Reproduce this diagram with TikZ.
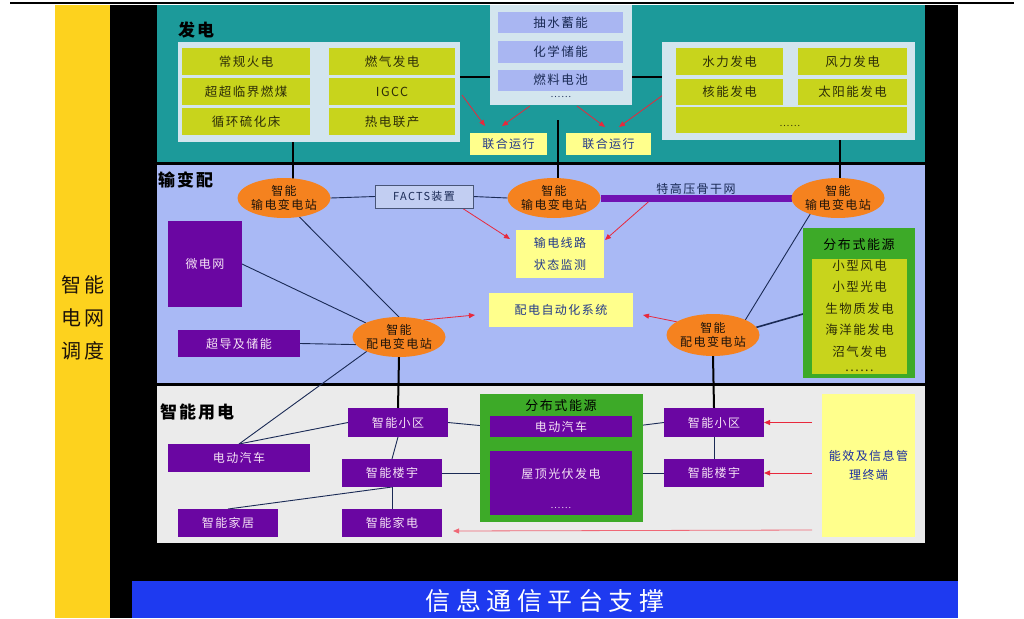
\documentclass[tikz,border=0pt]{standalone}
\usepackage{fontspec}
\setmainfont{Noto Sans CJK SC}[LetterSpace=12]
\newfontfamily\xwide{Noto Sans CJK SC}[LetterSpace=22]
\usetikzlibrary{shapes.geometric,arrows.meta,calc}
\newcommand\fz[2]{\fontsize{#1pt}{#2pt}\selectfont}
\definecolor{teal1}{HTML}{1C9A9A}
\definecolor{peri}{HTML}{A9B9F5}
\definecolor{lgray}{HTML}{EBEBEB}
\definecolor{sideyellow}{HTML}{FDD21E}
\definecolor{bluebottom}{HTML}{1E3AF0}
\definecolor{orng}{HTML}{F5821F}
\definecolor{purp}{HTML}{6A06A2}
\definecolor{ygreen}{HTML}{C8D41C}
\definecolor{contb}{HTML}{D3E5EE}
\definecolor{lav}{HTML}{A9B6F2}
\definecolor{lyel}{HTML}{FFFF8C}
\definecolor{grn}{HTML}{3DAA28}
\definecolor{navy}{HTML}{1A2A55}
\definecolor{redl}{HTML}{E8283C}
\definecolor{ytext}{HTML}{22388A}
\definecolor{thickp}{HTML}{7012B2}
\definecolor{factsf}{HTML}{C2CEF2}
\definecolor{celltext}{HTML}{2E2E08}
\definecolor{ptext}{HTML}{F6E4F6}
\pgfdeclarelayer{back}\pgfdeclarelayer{mid}\pgfsetlayers{back,mid,main}
\begin{document}
\begin{tikzpicture}[x=1pt,y=-1pt,
  every node/.style={inner sep=0pt, outer sep=0pt},
  bw/.style={minimum width=#1pt}, bh/.style={minimum height=#1pt},
  cell/.style={rectangle, fill=ygreen, text=celltext, font=\fz{12.5}{15}},
  lavcell/.style={rectangle, fill=lav, text=navy, font=\fz{12.5}{15}},
  cont/.style={rectangle, fill=contb},
  ybox/.style={rectangle, fill=lyel, text=ytext, font=\fz{12}{22}, align=center},
  pbox/.style={rectangle, fill=purp, text=ptext, font=\fz{12}{15}},
  sub/.style={ellipse, fill=orng, text=black!85!brown, font=\fz{12}{14}, align=center, minimum width=92pt, minimum height=40pt},
  conn/.style={draw=navy, line width=0.9pt},
  trunk/.style={draw=black, line width=2pt},
  redarr/.style={draw=redl, line width=0.8pt, -{Triangle[length=6pt,width=5pt]}},
  ptitle/.style={font=\bfseries\fz{17}{20}, text=black, anchor=west}]
\useasboundingbox (0,0) rectangle (1024,618);
\begin{pgfonlayer}{back}
\fill[white] (0,0) rectangle (1024,618);
\draw[line width=2pt] (10,3) -- (1014,3);
\fill[fill=sideyellow] (55,5) rectangle (110,618);
\fill[black] (110,5) rectangle (958,618);
\fill[teal1] (157,5) rectangle (925,162);
\fill[peri] (157,165) rectangle (925,383);
\fill[lgray] (157,386) rectangle (925,543);
\fill[fill=bluebottom] (132,581) rectangle (958,618);
\end{pgfonlayer}

% side and bottom labels
\node[font=\fz{20}{33}, text=black!85!brown, align=center] (sched) at (83,318) {智能\\电网\\调度};
\node[font=\xwide\fz{25}{28}, text=white] (info) at (545,601) {信息通信平台支撑};

% ---------- generation ----------
\node[ptitle] (tgen) at (178,30) {发电};
\node[cont, bw=282, bh=100] (L) at (319,92) {};
\node[cell, bw=128, bh=27] (c11) at (246,61.5) {常规火电};
\node[cell, bw=128, bh=27] (c12) at (246,91.5) {超超临界燃煤};
\node[cell, bw=128, bh=27] (c13) at (246,121.5) {循环硫化床};
\node[cell, bw=126, bh=27] (c21) at (392,61.5) {燃气发电};
\node[cell, bw=126, bh=27] (c22) at (392,91.5) {IGCC};
\node[cell, bw=126, bh=27] (c23) at (392,121.5) {热电联产};

\node[cont, bw=142, bh=100] (S) at (561,55) {};
\node[lavcell, bw=125, bh=21] (s1) at (560.5,23) {抽水蓄能};
\node[lavcell, bw=125, bh=21] (s2) at (560.5,52) {化学储能};
\node[lavcell, bw=125, bh=21] (s3) at (560.5,80) {燃料电池};
\node[font=\fz{9}{10}, text=navy] (sdots) at (561,97) {......};

\node[ybox, bw=77, bh=22] (J1) at (508.5,144) {联合运行};
\node[ybox, bw=85, bh=22] (J2) at (608.5,144) {联合运行};
\coordinate (jv) at (558,120);

\node[cont, bw=253, bh=98] (R) at (788.5,91) {};
\node[cell, bw=107, bh=27] (r11) at (729.5,61.5) {水力发电};
\node[cell, bw=109, bh=27] (r12) at (852.5,61.5) {风力发电};
\node[cell, bw=107, bh=26] (r21) at (729.5,92) {核能发电};
\node[cell, bw=109, bh=26] (r22) at (852.5,92) {太阳能发电};
\node[cell, bw=231, bh=26] (r3) at (791.5,120) {};
\node[font=\fz{9}{10}, text=celltext] (rdots) at (790,126) {......};

% ---------- transmission ----------
\node[ptitle] (tmid) at (158,180) {输变配};
\node[sub] (E1) at (284,198) {智能\\输电变电站};
\node[rectangle, fill=factsf, draw=navy!80, line width=0.8pt, bw=98, bh=23, font=\fz{11}{13}, text=navy] (F) at (424,196.5) {FACTS装置};
\node[sub] (E2) at (554,198) {智能\\输电变电站};
\node[sub, minimum width=90pt] (E3) at (838,198) {智能\\输电变电站};
\node[ybox, bw=88, bh=48] (M) at (560,254) {输电线路\\状态监测};
\node[ybox, bw=144, bh=34] (D) at (561,310) {配电自动化系统};
\node[pbox, bw=74, bh=86] (W) at (205,264) {微电网};
\node[pbox, bw=122, bh=27] (C) at (239,343.5) {超导及储能};
\node[sub, minimum width=88pt] (E4) at (399,337) {智能\\配电变电站};
\node[sub, minimum width=88pt, minimum height=42pt] (E5) at (713,335) {智能\\配电变电站};
\node[rectangle, fill=grn, bw=112, bh=150] (G) at (859,303) {};
\node[font=\fz{13}{15}, text=black] (Gt) at (859,245) {分布式能源};
\node[rectangle, fill=ygreen, bw=95, bh=115, align=center, font=\fz{12.5}{21.5}, text=celltext] (G2) at (859.5,316) {小型风电\\小型光电\\生物质发电\\海洋能发电\\沼气发电\\[-6pt]......};

% ---------- consumption ----------
\node[ptitle] (tuse) at (160,412) {智能用电};
\node[pbox, bw=100, bh=29] (SQ1) at (398,422.5) {智能小区};
\node[pbox, bw=142, bh=28] (EV) at (239,458) {电动汽车};
\node[pbox, bw=100, bh=28] (LY1) at (392,473) {智能楼宇};
\node[pbox, bw=100, bh=28] (JJ) at (228,523) {智能家居};
\node[pbox, bw=100, bh=28] (JD) at (392,523) {智能家电};
\node[rectangle, fill=grn, bw=163, bh=128] (GG) at (561.5,458) {};
\node[font=\fz{13}{15}, text=black] (GGt) at (561,406) {分布式能源};
\node[pbox, bw=142, bh=21] (GE) at (561,426.5) {电动汽车};
\node[pbox, bw=142, bh=64] (GR) at (561,483) {};
\node[text=ptext, font=\fz{12}{14}] (GRt) at (561,474) {屋顶光伏发电};
\node[text=ptext, font=\fz{9}{10}] (GRd) at (561,508) {......};
\node[pbox, bw=100, bh=29] (SQ2) at (714,422.5) {智能小区};
\node[pbox, bw=100, bh=28] (LY2) at (714,473) {智能楼宇};
\node[rectangle, fill=lyel, bw=93, bh=143, align=center, text=ytext!80!blue, font=\fz{12}{19}] (NX) at (868.5,465.5) {能效及信息管\\理终端};

% ---------- connectors ----------
\begin{pgfonlayer}{mid}
\draw[trunk] ($(L.east)+(0,-15)$) -- ($(R.west)+(0,-14)$);
\draw[trunk] ($(L.south)+(-26,0)$) coordinate (lt) -- (lt |- E1.center);
\draw[trunk] (jv) -- (jv |- E2.center);
\draw[trunk] ($(R.south)+(51.5,0)$) coordinate (rt) -- (rt |- E3.center);
\draw[redarr] ($(L.south east)+(2,-47)$) -- ($(J1.north west)+(15,-7)$);
\draw[redarr] ($(S.south)+(-31,1)$) -- ($(J1.north)+(-6.5,-7)$);
\draw[redarr] ($(S.south)+(16,1)$) -- ($(J2.north)+(-3.5,-6)$);
\draw[redarr] ($(R.west)+(1,4)$) -- ($(J2.north)+(10.5,-6)$);

\draw[conn] (E1.east) -- (F.west);
\draw[conn] (F.east) -- (E2.west);
\draw[draw=thickp, line width=7pt] (E2.east) -- node[above=4pt, font=\fz{12}{14}, text=navy] (hvl) {特高压骨干网} (E3.west);
\draw[redarr] ($(F.south east)+(-11,0)$) -- ($(M.north west)+(-6,9)$);
\draw[redarr] ($(E2.east)!0.25!(E3.west)+(0,4)$) -- ($(M.north east)+(1,10)$);
\draw[redarr] (E4.35) -- ($(D.west)+(-14,5)$);
\draw[redarr] (E5.160) -- ($(D.east)+(10,5)$);
\draw[conn] (E1.-51) -- (E4.north);
\draw[conn] (W.east) -- (E4.157);
\draw[conn] (C.east) -- (E4.190);
\draw[conn] (E3.-150) -- (E5.25);
\draw[conn, line width=1.6pt] (E5.10) -- ($(G.west)+(0,11)$);
\draw[trunk] (E4.south) -- (SQ1.north);
\draw[trunk] (E5.south) -- (SQ2.north);
\draw[conn] (E4.204) -- (EV.north);

\draw[conn] (SQ1.west) -- (EV.north);
\draw[conn] (SQ1.south) -- (LY1.north);
\draw[conn] (LY1.south) -- (JD.north);
\draw[conn] (JJ.north) -- (LY1.south);
\draw[conn] (SQ1.east) -- (GE.west);
\draw[conn] (LY1.east) -- (LY1.east -| GR.west);
\draw[conn] (GE.east) -- (SQ2.west);
\draw[conn] (LY2.west -| GR.east) -- (LY2.west);
\draw[conn] (SQ2.south) -- (LY2.north);
\draw[redarr] ($(SQ2.east -| NX.west)+(-10,0)$) -- (SQ2.east);
\draw[redarr] ($(LY2.east -| NX.west)+(-10,0)$) -- (LY2.east);
\draw[redarr, draw=redl!70!white] ($(NX.west)+(-10,64.5)$) -- ($(JD.east)+(11,8)$);
\end{pgfonlayer}
\end{tikzpicture}
\end{document}
